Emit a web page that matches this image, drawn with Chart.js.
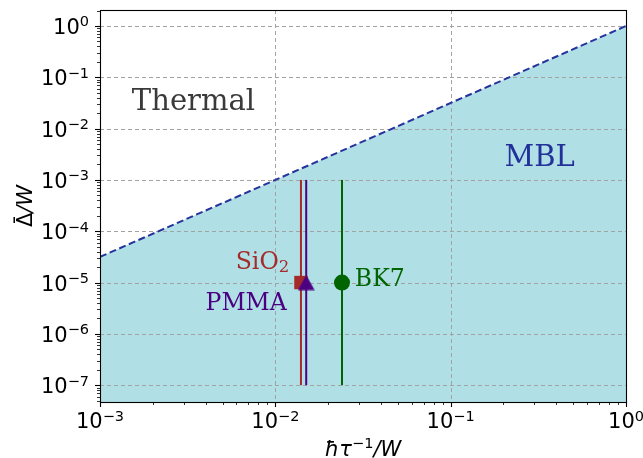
<!DOCTYPE html>
<html>
<head>
<meta charset="utf-8">
<script src="https://cdn.jsdelivr.net/npm/chart.js@4.4.1/dist/chart.umd.min.js"></script>
<style>
    html, body { margin: 0; padding: 0; background: #fff; }
</style>
</head>
<body>
<canvas id="phaseChart" width="643" height="458"></canvas>
<script>
// axes
const xMin = 1e-3, xMax = 1;
const yMin = 4.7e-8, yMax = 2.05;
const xDecades = [-3, -2, -1, 0];
const yDecades = [-7, -6, -5, -4, -3, -2, -1, 0];

// boundary Thermal / MBL
const boundaryX = [1e-3, 1];
const boundaryY = [3.16e-5, 1];

// materials
const materialNames = ['SiO', 'PMMA', 'BK7'];
const materialSub = ['2', '', ''];
const materialX = [0.014, 0.015, 0.024];
const materialLow = [1e-7, 1e-7, 1e-7];
const materialHigh = [1e-3, 1e-3, 1e-3];
const materialPointY = [1e-5, 1e-5, 1e-5];
const materialColors = ['#a52a2a', '#4b0082', '#006400'];
const materialMarkers = ['rect', 'triangle', 'circle'];
const materialMarkerSize = [9.5, 10, 8];
// label anchors (data coords, baseline)
const materialLabelX = [0.0120, 0.01162, 0.0284];
const materialLabelY = [1.86e-5, 2.87e-6, 8.5e-6];
const materialLabelAlign = ['right', 'right', 'left'];

// region labels
const regionNames = ['Thermal', 'MBL'];
const regionX = [0.00341, 0.322];
const regionY = [0.0233, 0.0019];
const regionColors = ['#3a3a3a', '#22309a'];

function expText(e) {
    return String(e).replace('-', '\u2212');
}

// matplotlib-like '^' marker: centred on its bounding box
function triangleMarker(color) {
    const c = document.createElement('canvas');
    c.width = 17; c.height = 16;
    const g = c.getContext('2d');
    g.fillStyle = color;
    g.beginPath();
    g.moveTo(8.5, 0.5);
    g.lineTo(16.8, 15.5);
    g.lineTo(0.2, 15.5);
    g.closePath();
    g.fill();
    return c;
}

const datasets = [];
// markers (first index is drawn on top)
for (let i = materialNames.length - 1; i >= 0; i--) {
    const style = materialMarkers[i] === 'triangle' ? triangleMarker(materialColors[i]) : materialMarkers[i];
    datasets.push({
        label: materialNames[i] + ' point',
        data: [{ x: materialX[i], y: materialPointY[i] }],
        showLine: false,
        pointStyle: style,
        pointRadius: materialMarkerSize[i],
        backgroundColor: materialColors[i],
        borderColor: materialColors[i],
        borderWidth: 0
    });
}
// vertical bars
materialNames.forEach((name, i) => {
    datasets.push({
        label: name + ' range',
        data: [{ x: materialX[i], y: materialLow[i] }, { x: materialX[i], y: materialHigh[i] }],
        showLine: true,
        pointRadius: 0,
        borderColor: materialColors[i],
        borderWidth: 2
    });
});
// dashed boundary
datasets.push({
    label: 'boundary',
    data: boundaryX.map((x, i) => ({ x: x, y: boundaryY[i] })),
    showLine: true,
    pointRadius: 0,
    borderColor: '#26339c',
    borderWidth: 2,
    borderDash: [7, 3.5]
});
// MBL fill (last index is drawn first)
const fillIndex = datasets.length;
datasets.push({
    label: 'MBL',
    data: boundaryX.map((x, i) => ({ x: x, y: boundaryY[i] })),
    showLine: true,
    pointRadius: 0,
    borderWidth: 0,
    borderColor: 'rgba(0,0,0,0)',
    backgroundColor: '#b0e0e6',
    fill: 'start'
});

// grid over the fill, under the lines
const gridPlugin = {
    id: 'gridOverFill',
    afterDatasetDraw(chart, args) {
        if (args.index !== fillIndex) return;
        const { ctx, chartArea: a, scales: { x, y } } = chart;
        ctx.save();
        ctx.strokeStyle = '#a3a3a3';
        ctx.lineWidth = 1;
        ctx.setLineDash([4, 3]);
        xDecades.forEach(e => {
            const px = Math.round(x.getPixelForValue(10 ** e)) + 0.5;
            ctx.beginPath(); ctx.moveTo(px, a.top); ctx.lineTo(px, a.bottom); ctx.stroke();
        });
        yDecades.forEach(e => {
            const py = Math.round(y.getPixelForValue(10 ** e)) + 0.5;
            ctx.beginPath(); ctx.moveTo(a.left, py); ctx.lineTo(a.right, py); ctx.stroke();
        });
        ctx.restore();
    }
};

// text made of pieces: [text, font, raise]
function drawPieces(ctx, pieces, x, y, align) {
    let total = 0;
    pieces.forEach(p => { ctx.font = p[1]; p.w = ctx.measureText(p[0]).width; total += p.w; });
    let cx = align === 'center' ? x - total / 2 : (align === 'right' ? x - total : x);
    pieces.forEach(p => {
        ctx.font = p[1];
        ctx.fillText(p[0], cx, y - p[2]);
        cx += p.w;
    });
    return total;
}

const BASE_FONT = '21px "DejaVu Sans"';
const EXP_FONT = '14.5px "DejaVu Sans"';
const ITALIC_FONT = 'italic 21px "DejaVu Sans"';

// frame, ticks, tick labels, titles and text labels
const decorPlugin = {
    id: 'decor',
    afterDraw(chart) {
        const { ctx, chartArea: a, scales: { x, y } } = chart;
        ctx.save();
        ctx.strokeStyle = '#000';
        // minor + major ticks
        for (let e = -3; e <= 0; e++) {
            for (let k = 1; k <= 9; k++) {
                const v = k * 10 ** e;
                if (v < xMin || v > xMax) continue;
                const px = Math.round(x.getPixelForValue(v)) + 0.5;
                const len = k === 1 ? 5 : 3;
                ctx.lineWidth = k === 1 ? 1.1 : 0.8;
                ctx.beginPath(); ctx.moveTo(px, a.bottom); ctx.lineTo(px, a.bottom + len); ctx.stroke();
            }
        }
        for (let e = -8; e <= 0; e++) {
            for (let k = 1; k <= 9; k++) {
                const v = k * 10 ** e;
                if (v < yMin || v > yMax) continue;
                const py = Math.round(y.getPixelForValue(v)) + 0.5;
                const len = k === 1 ? 5 : 3;
                ctx.lineWidth = k === 1 ? 1.1 : 0.8;
                ctx.beginPath(); ctx.moveTo(a.left, py); ctx.lineTo(a.left - len, py); ctx.stroke();
            }
        }
        // frame
        ctx.lineWidth = 1.1;
        ctx.strokeRect(a.left + 0.5, a.top + 0.5, a.right - a.left, a.bottom - a.top);

        // tick labels
        ctx.fillStyle = '#000';
        ctx.textBaseline = 'alphabetic';
        ctx.textAlign = 'left';
        xDecades.forEach(e => {
            drawPieces(ctx, [['10', BASE_FONT, 0], [expText(e), EXP_FONT, 7.5]],
                x.getPixelForValue(10 ** e), a.bottom + 26, 'center');
        });
        yDecades.forEach(e => {
            drawPieces(ctx, [['10', BASE_FONT, 0], [expText(e), EXP_FONT, 7.5]],
                a.left - 11, y.getPixelForValue(10 ** e) + 8, 'right');
        });

        // x title
        drawPieces(ctx, [['ħτ', ITALIC_FONT, 0], ['\u22121', EXP_FONT, 8], ['/W', ITALIC_FONT, 0]],
            (a.left + a.right) / 2, 456, 'center');

        // y title (rotated)
        ctx.save();
        ctx.translate(32, (a.top + a.bottom) / 2);
        ctx.rotate(-Math.PI / 2);
        ctx.font = BASE_FONT;
        const wDelta = ctx.measureText('Δ').width;
        const total = drawPieces(ctx, [['Δ', BASE_FONT, 0], ['/W', ITALIC_FONT, 0]], 0, 0, 'center');
        ctx.textAlign = 'center';
        ctx.font = BASE_FONT;
        ctx.fillText('¯', -total / 2 + wDelta / 2, -3);
        ctx.restore();

        // region labels
        ctx.textAlign = 'center';
        ctx.font = '29px "DejaVu Serif"';
        regionNames.forEach((t, i) => {
            ctx.fillStyle = regionColors[i];
            ctx.fillText(t, x.getPixelForValue(regionX[i]), y.getPixelForValue(regionY[i]));
        });
        // material labels
        ctx.textAlign = 'left';
        materialNames.forEach((t, i) => {
            ctx.fillStyle = materialColors[i];
            const pieces = [[t, '23.6px "DejaVu Serif"', 0]];
            if (materialSub[i]) pieces.push([materialSub[i], '16.5px "DejaVu Serif"', -3.5]);
            drawPieces(ctx, pieces, x.getPixelForValue(materialLabelX[i]),
                y.getPixelForValue(materialLabelY[i]), materialLabelAlign[i]);
        });
        ctx.restore();
    }
};

new Chart(document.getElementById('phaseChart').getContext('2d'), {
    type: 'scatter',
    data: { datasets: datasets },
    options: {
        responsive: false,
        animation: false,
        events: [],
        layout: { padding: { top: 8, right: 17, left: 0, bottom: 0 } },
        plugins: {
            legend: { display: false },
            tooltip: { enabled: false }
        },
        scales: {
            x: {
                type: 'logarithmic',
                min: xMin,
                max: xMax,
                afterBuildTicks: s => { s.ticks = xDecades.map(e => ({ value: 10 ** e })); },
                afterFit: s => { s.height = 56; s.paddingLeft = 0; s.paddingRight = 0; },
                ticks: { display: false },
                grid: { display: false },
                border: { display: false }
            },
            y: {
                type: 'logarithmic',
                min: yMin,
                max: yMax,
                afterBuildTicks: s => { s.ticks = yDecades.map(e => ({ value: 10 ** e })); },
                afterFit: s => { s.width = 100; s.paddingTop = 0; s.paddingBottom = 0; },
                ticks: { display: false },
                grid: { display: false },
                border: { display: false }
            }
        }
    },
    plugins: [gridPlugin, decorPlugin]
});
</script>
</body>
</html>
